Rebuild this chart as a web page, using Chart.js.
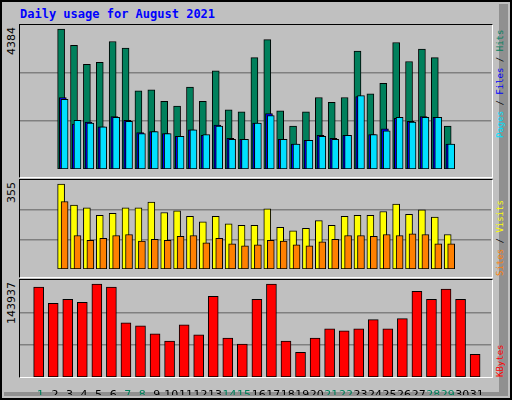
<!DOCTYPE html>
<html><head><meta charset="utf-8">
<script src="https://cdn.jsdelivr.net/npm/chart.js@4"></script>
<style>
body{margin:0;width:512px;height:400px;overflow:hidden;background:#C0C0C0}
#frame{position:absolute;left:0;top:0;width:508px;height:396px;border:2px solid #000;background:#C0C0C0}
#shadowR{position:absolute;left:499px;top:4px;width:9px;height:390px;background:#909090}
#shadowB{position:absolute;left:4px;top:392px;width:504px;height:4px;background:#909090}
.panel{position:absolute;left:19px;width:472px;border-top:1px solid #000;border-left:1px solid #000;border-right:1px solid #fff;border-bottom:1px solid #fff}
canvas{position:absolute}
.t{position:absolute;font-family:"DejaVu Sans Mono",monospace;font-weight:bold;font-size:12px;white-space:nowrap}
.rl{position:absolute;font-family:"DejaVu Sans",sans-serif;font-size:11px;white-space:nowrap;transform-origin:0 0;transform:rotate(-90deg)}
.rr{position:absolute;font-family:"DejaVu Sans Mono",monospace;font-size:9px;white-space:nowrap;transform-origin:0 0;transform:rotate(-90deg);color:#000}
</style></head><body>
<div id="frame"></div><div id="shadowR"></div><div id="shadowB"></div>
<div class="t" style="left:20px;top:7px;color:#0000FF">Daily usage for August 2021</div>
<div class="panel" style="top:24px;height:152px"></div>
<div class="panel" style="top:179px;height:97px"></div>
<div class="panel" style="top:279px;height:97px"></div>
<canvas id="c1" width="471" height="152" style="left:20px;top:25px"></canvas>
<canvas id="c2" width="471" height="97" style="left:20px;top:180px"></canvas>
<canvas id="c3" width="471" height="115" style="left:20px;top:280px"></canvas>
<div id="lbls"></div>
<script>
const days = Array.from({length:31},(_, i)=>i+1);
const weekendDays = [1,7,8,14,15,21,22,28,29];
const hits = [4384,3878,3283,3343,3997,3789,2450,2480,2123,1974,2569,2123,3075,1855,1795,3491,4057,1825,1349,1795,2242,2093,2242,3700,2361,2688,3968,3372,3759,3491,1349];
const files = [2242,1408,1468,1319,1647,1528,1141,1171,1111,1022,1230,1052,1379,962,932,1438,1736,932,783,902,1052,962,1052,2272,1082,1260,1587,1498,1647,1617,783];
const pages = [2182,1528,1438,1319,1617,1498,1111,1171,1111,1022,1230,1082,1349,932,932,1438,1677,932,783,902,1022,932,1052,2301,1082,1200,1617,1468,1617,1617,783];
const visits = [355,267,255,224,232,255,255,279,236,243,220,197,220,189,182,182,251,174,159,170,202,182,220,224,224,240,271,228,247,217,144];
const sites = [282,140,120,128,140,144,117,124,120,136,140,109,128,105,97,101,120,117,101,97,113,124,140,140,136,144,140,147,144,105,105];
const kbytes = [139205,113990,120293,115566,143937,139205,84048,79320,66713,55682,80896,65137,125021,60409,50954,120293,143937,55682,38347,60409,74593,71441,74593,88776,74593,90351,132901,120293,136053,120293,35195];

const GREEN='#00805C';
function pts(arr,shift){return arr.map((v,i)=>({x:days[i]+shift,y:v}));}
function ds(arr,shift,color,w,order){return {data:pts(arr,shift),backgroundColor:color,borderColor:'#000',borderWidth:1,borderSkipped:false,barThickness:w,grouped:false,order:order};}
function yAxis(max){return {min:0,max:max,afterBuildTicks:s=>{s.ticks=[{value:max/3},{value:2*max/3}];},
  ticks:{display:false},grid:{color:'#808080',lineWidth:1.5,drawTicks:false},border:{display:false}};}
function make(id,datasets,max,showX){
  const x={type:'linear',min:0.42,max:31.75,grid:{display:false},border:{display:false},ticks:{display:false}};
  if(showX){
    x.afterBuildTicks=s=>{s.ticks=days.map(d=>({value:d+0.3}));};
    x.afterFit=s=>{s.height=18;};
    x.ticks={display:true,autoSkip:false,maxRotation:0,padding:4,font:{family:'DejaVu Sans',size:11},
      color:c=>weekendDays.includes(Math.round(c.tick.value-0.3))?GREEN:'#000',
      callback:v=>String(Math.round(v-0.3))};
  }
  new Chart(document.getElementById(id),{type:'bar',data:{datasets},
    options:{responsive:false,animation:false,devicePixelRatio:1,layout:{padding:0},
      plugins:{legend:{display:false},tooltip:{enabled:false}},
      scales:{x:x,y:yAxis(max)}}});
}
const hMax=Math.max(...hits), vMax=Math.max(...visits), kMax=Math.max(...kbytes);
make('c1',[ds(hits,0,GREEN,7,3),ds(files,0.13,'#0000FF',7,2),ds(pages,0.27,'#00E0FF',7,1)],hMax*1.03,false);
make('c2',[ds(visits,0,'#FFFF00',7,2),ds(sites,0.27,'#FF8000',7,1)],vMax*1.047,false);
make('c3',[ds(kbytes,0.18,'#FF0000',10,1)],kMax*1.044,true);

const L=document.getElementById('lbls');
function add(cls,x,y,html){const d=document.createElement('div');d.className=cls;d.style.left=x+'px';d.style.top=y+'px';d.innerHTML=html;L.appendChild(d);}
function w(txt){const c=document.createElement('canvas').getContext('2d');c.font='11px "DejaVu Sans"';return c.measureText(txt).width;}
add('rl',5,27+w(String(hMax)),String(hMax));
add('rl',5,182+w(String(vMax)),String(vMax));
add('rl',5,282+w(String(kMax)),String(kMax));
add('rr',495,138,'<span style="color:#00E0FF">Pages</span> / <span style="color:#0000FF">Files</span> / <span style="color:'+GREEN+'">Hits</span>');
add('rr',495,276,'<span style="color:#FF8000">Sites</span> / <span style="color:#FFFF00">Visits</span>');
add('rr',495,377,'<span style="color:#FF0000">KBytes</span>');
</script></body></html>
